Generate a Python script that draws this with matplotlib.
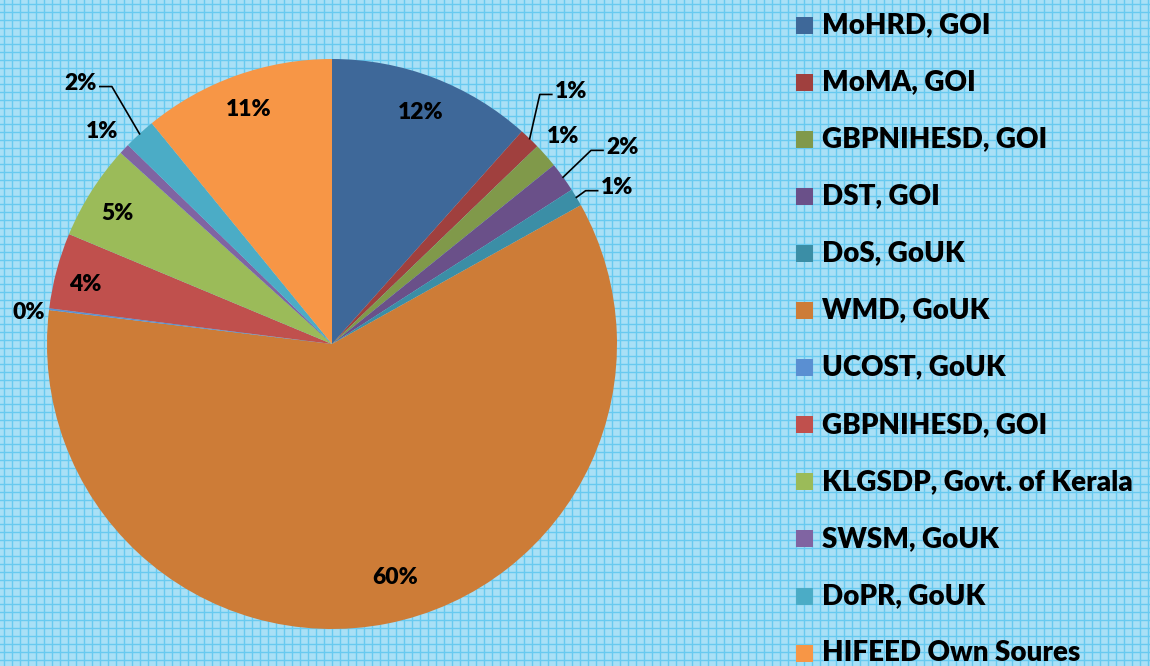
import numpy as np
import matplotlib.pyplot as plt
from matplotlib.patches import Rectangle

plt.rcParams['font.family'] = ['Lato', 'DejaVu Sans']
plt.rcParams['font.weight'] = 'bold'

sources = ['MoHRD, GOI', 'MoMA, GOI', 'GBPNIHESD, GOI', 'DST, GOI', 'DoS, GoUK',
           'WMD, GoUK', 'UCOST, GoUK', 'GBPNIHESD, GOI', 'KLGSDP, Govt. of Kerala',
           'SWSM, GoUK', 'DoPR, GoUK', 'HIFEED Own Soures']
shares = [11.6, 1.2, 1.4, 1.7, 1.0, 60.0, 0.1, 4.3, 5.4, 0.6, 1.8, 10.9]
colors = ['#3e6899', '#a0403e', '#80994a', '#6a5089', '#3b8ea6', '#cd7c37',
          '#5a8fd2', '#c0504d', '#9bbb59', '#8064a2', '#4bacc6', '#f79646']

# label placement: radius (pie radii), angular nudge (deg clockwise), leader line
label_r = [0.87, 1.22, 1.09, 1.23, 1.14, 0.85, 1.07, 0.89, 0.88, 1.10, 1.27, 0.875]
label_nudge = [0, -0.5, -0.5, 1.7, 2.2, -4, -1.1, -1.4, -1, -0.5, -1.5, 0]
leader = [False, True, False, True, True, False, False, False, False, False, True, False]

W, H = 1150, 666
CX, CY, R = 332, 344, 285

fig = plt.figure(figsize=(W / 100, H / 100), dpi=100)
fig.patch.set_facecolor('#a9e0f6')

# graph-paper background
bg = fig.add_axes([0, 0, 1, 1])
bg.set_xlim(0, W)
bg.set_ylim(H, 0)
bg.axis('off')
for x in np.arange(3.5, W, 8):
    bg.axvline(x, color='#68caf0', lw=1.0, zorder=1)
for y in np.arange(3.5, H, 8):
    bg.axhline(y, color='#68caf0', lw=1.0, zorder=1)

ax = fig.add_axes([0, 0, 1, 1])
ax.patch.set_alpha(0)
wedges, _ = ax.pie(shares, colors=colors, startangle=90, counterclock=False,
                   radius=1, center=(0, 0), wedgeprops=dict(linewidth=0))
ax.set_xlim(-CX / R, (W - CX) / R)
ax.set_ylim(-(H - CY) / R, CY / R)
ax.set_aspect('equal')
ax.axis('off')

px = 1.0 / R
total = sum(shares)
renderer = fig.canvas.get_renderer()
for i, w in enumerate(wedges):
    mid = np.deg2rad((w.theta1 + w.theta2) / 2 - label_nudge[i])
    lx, ly = label_r[i] * np.cos(mid), label_r[i] * np.sin(mid)
    pct = shares[i] / total * 100
    t = ax.text(lx, ly, f'{pct:.0f}%', ha='center', va='center',
                fontsize=16.5, fontweight='heavy', color='black')
    if leader[i]:
        bb = t.get_window_extent(renderer)
        half = bb.width / 2 * px
        side = 1 if lx > 0 else -1
        m0 = np.deg2rad((w.theta1 + w.theta2) / 2)
        sx, sy = np.cos(m0), np.sin(m0)
        end_x = lx - side * (half + 3 * px)
        elb_x = end_x - side * 12 * px
        yy = ly - 3 * px
        ax.plot([sx, elb_x, end_x], [sy, yy, yy], color='black', lw=1.2)

# legend
for i, name in enumerate(sources):
    yc = 25 + 57.1 * i
    bg.add_patch(Rectangle((796, yc - 8.5), 17, 17, color=colors[i], lw=0, zorder=3))
    bg.text(822, yc, name, ha='left', va='center', fontsize=20,
            fontweight='heavy', color='black', zorder=3)

fig.savefig('out.png', dpi=100, facecolor=fig.get_facecolor())
